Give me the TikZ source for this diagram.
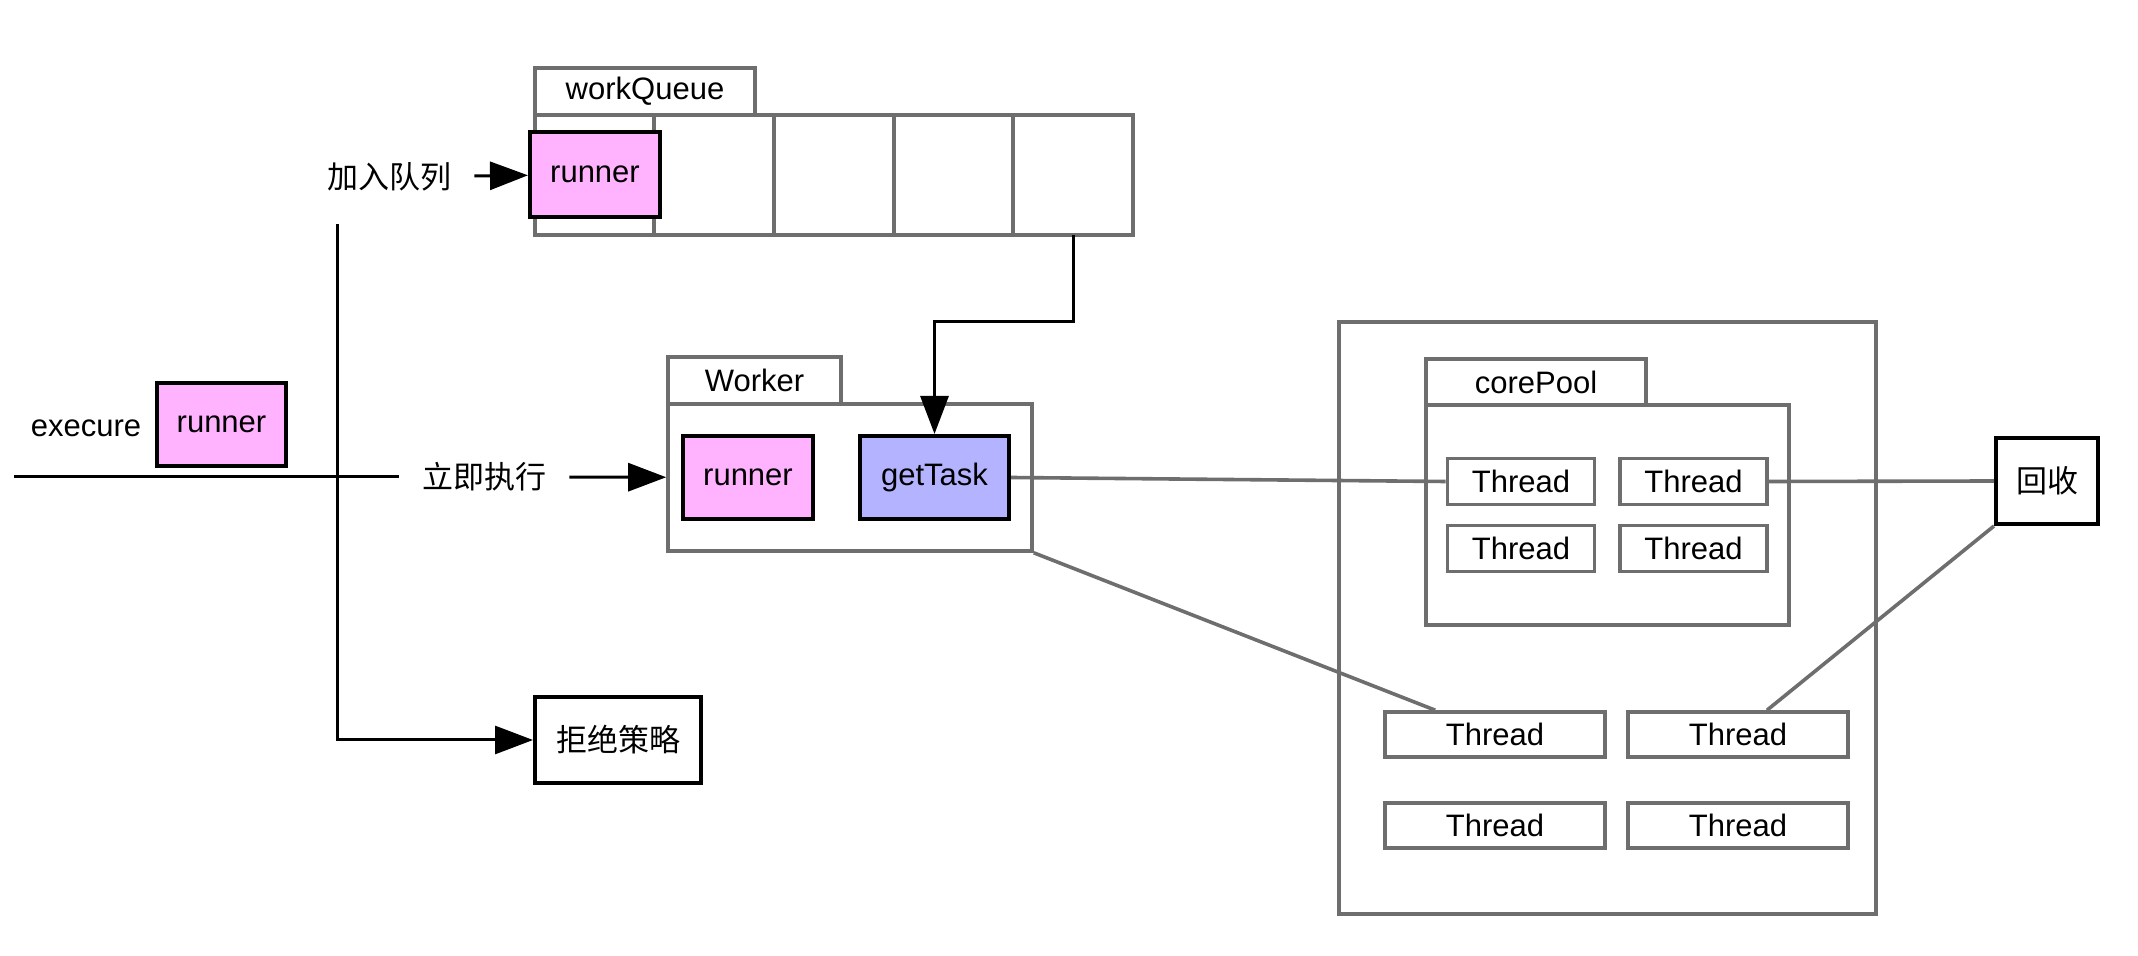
\documentclass[tikz,border=0pt]{standalone}
\usepackage{fontspec}
\setmainfont{Liberation Sans}
\newfontfamily\cjk{Noto Sans CJK SC}
\usepackage{xcolor}
\usetikzlibrary{positioning,arrows.meta,calc}
\definecolor{runpink}{HTML}{FFB3FF}
\definecolor{taskblue}{HTML}{B3B3FF}
\definecolor{frame}{HTML}{6E6E6E}

\begin{document}
\begin{tikzpicture}[x=0.5pt,y=-0.5pt,
  font=\fontsize{15.5}{18}\selectfont,
  box/.style={draw=frame,line width=1.8pt,inner sep=0pt,fill=white},
  tab/.style={box,minimum height=23.5pt},
  run/.style={draw=black,line width=2pt,fill=runpink,minimum width=65pt,minimum height=42pt,inner sep=0pt},
  task/.style={run,fill=taskblue,minimum width=74.5pt},
  endbox/.style={draw=black,line width=2pt,inner sep=0pt,minimum height=43pt,font=\fontsize{15.5}{18}\selectfont\cjk},
  thr/.style={box,minimum width=73.5pt,minimum height=23pt},
  lthr/.style={box,minimum width=110pt,minimum height=22.5pt},
  lbl/.style={inner sep=11.5pt,font=\fontsize{15.5}{18}\selectfont\cjk},
  arr/.style={-{Triangle[length=19pt,width=14pt]},line width=1.5pt},
  ln/.style={line width=1.5pt},
  gl/.style={draw=frame,line width=1.8pt}
]
\useasboundingbox[fill=white] (0,0) rectangle (2138,956);
% queue
\node[tab,minimum width=110pt] (qtab) at (645,91.5) {workQueue};
\node[box,minimum width=299pt,minimum height=60pt] (queue) at (834,175) {};
\foreach \cx in {654,774,894,1013}
  \draw[gl] (\cx,115) -- (\cx,235);
\node[run,minimum height=42.5pt] (qrun) at (595,174.5) {runner};
\node[lbl] (join) at (389,177) {加入队列};
\draw[arr] (join) -- (qrun);
% submit
\node[inner sep=0pt] (exec) at (86,428) {execure};
\node[run,minimum width=64.5pt,minimum height=41.5pt] (inrun) at (221.5,424.5) {runner};
\coordinate (start) at (14,477);
\coordinate (fork) at (337,224);
\node[lbl] (now) at (484,477) {立即执行};
\node[endbox,minimum width=83pt] (reject) at (618,740) {拒绝策略};
\draw[ln] (start) -- (now);
\draw[arr] (fork) |- (reject);
% worker
\node[tab,minimum width=86.5pt] (wtab) at (754.5,380.5) {Worker};
\node[box,minimum width=182pt,minimum height=73.5pt] (worker) at (850,477.5) {};
\node[run,minimum height=41.5pt] (wrun) at (748,477.5) {runner};
\node[task,minimum height=41.5pt] (task) at (934.5,477.5) {getTask};
\draw[arr] (now) -- (worker);
\coordinate (qout) at (1073,235);
\draw[arr] (qout) -- ++(0,87) -| (task.north);
% pool
\node[box,minimum width=268.5pt,minimum height=296pt] (pool) at (1607.5,618) {};
\node[tab,minimum width=110pt,minimum height=23pt] (ctab) at (1536,382) {corePool};
\node[box,minimum width=181.5pt,minimum height=110pt] (core) at (1607.5,515) {};
\node[thr] (t1) at (1521,481.5) {Thread};
\node[thr] (t2) at (1693.5,481.5) {Thread};
\node[thr] (t3) at (1521,548.5) {Thread};
\node[thr] (t4) at (1693.5,548.5) {Thread};
\node[lthr] (l1) at (1495,734.5) {Thread};
\node[lthr] (l2) at (1738,734.5) {Thread};
\node[lthr] (l3) at (1495,825.5) {Thread};
\node[lthr] (l4) at (1738,825.5) {Thread};
\node[endbox,minimum width=51pt] (back) at (2047,481) {回收};
\draw[gl] (task.east) -- (t1.west);
\draw[gl] (t2.east) -- (back.west);
\draw[gl] (worker.south east) -- ($(l1.north west)+(52,0)$);
\draw[gl] ($(l2.north)+(29,0)$) -- (back.south west);
\end{tikzpicture}
\end{document}
